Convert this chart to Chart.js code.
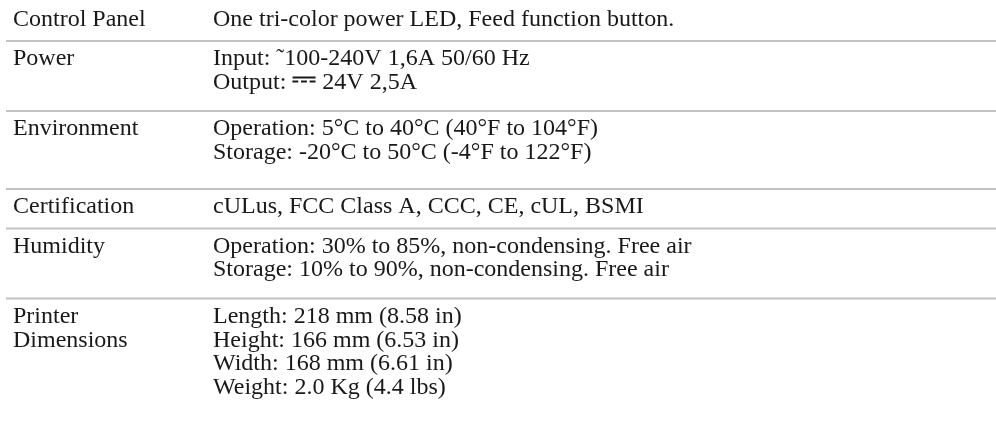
<!DOCTYPE html>
<html>
<head>
<meta charset="utf-8">
<script src="https://cdn.jsdelivr.net/npm/chart.js@4"></script>
<style>
  body { margin: 0; background: #fff; }
  #wrap { width: 996px; height: 423px; }
</style>
</head>
<body>
<div id="wrap"><canvas id="specChart"></canvas></div>
<script>
// Table contents
const specNames = ['Control Panel', 'Power', 'Environment', 'Certification', 'Humidity', 'Printer\nDimensions'];
const controlPanel = ['One tri-color power LED, Feed function button.'];
const power = ['Input: \u02DC100-240V 1,6A 50/60 Hz', 'Output: \u2393 24V 2,5A'];
const environment = ['Operation: 5\u00B0C to 40\u00B0C (40\u00B0F to 104\u00B0F)', 'Storage: -20\u00B0C to 50\u00B0C (-4\u00B0F to 122\u00B0F)'];
const certification = ['cULus, FCC Class A, CCC, CE, cUL, BSMI'];
const humidity = ['Operation: 30% to 85%, non-condensing. Free air', 'Storage: 10% to 90%, non-condensing. Free air'];
const dimensions = ['Length: 218 mm (8.58 in)', 'Height: 166 mm (6.53 in)', 'Width: 168 mm (6.61 in)', 'Weight: 2.0 Kg (4.4 lbs)'];
const specValues = [controlPanel, power, environment, certification, humidity, dimensions];

// layout, in text lines
const TOP = 0.065;
const FIRST_BASELINE = 1.04;
const X_MAX = 4.915;
const rowExtra = [0, 0, 0.34, 0, 0, 0];

const nameData = [];
const valueData = [];
const ruleData = [];
let y = TOP;
specValues.forEach((lines, i) => {
    const names = specNames[i].split('\n');
    const n = Math.max(lines.length, names.length);
    names.forEach((t, k) => nameData.push({ x: 0, y: y + FIRST_BASELINE + k, text: t }));
    lines.forEach((t, k) => valueData.push({ x: 1, y: y + FIRST_BASELINE + k, text: t }));
    y += 0.68 + n + (n > 1 ? 0.3 : 0) + rowExtra[i];
    if (i < specValues.length - 1) {
        ruleData.push({ x: -0.035, y: y }, { x: X_MAX, y: y }, { x: null, y: null });
    }
});

const TEXT_FONT = "24px 'Liberation Serif', 'DejaVu Serif'";
const DC_FONT = "bold 30px 'DejaVu Sans'";

// draws one line; the DC symbol gets a heavier font like the printed manual
function drawLine(ctx, text, x, y) {
    const parts = text.split('\u2393');
    parts.forEach((part, i) => {
        ctx.font = TEXT_FONT;
        ctx.fillText(part, x, y);
        x += ctx.measureText(part).width;
        if (i < parts.length - 1) {
            ctx.font = DC_FONT;
            ctx.fillText('\u2393', x, y - 1);
            x += ctx.measureText('\u2393').width;
        }
    });
}

const textPlugin = {
    id: 'cellText',
    afterDatasetsDraw(chart) {
        const ctx = chart.ctx;
        ctx.save();
        ctx.fillStyle = '#1a1818';
        ctx.textBaseline = 'alphabetic';
        ctx.textAlign = 'left';
        [0, 1].forEach(di => {
            const ds = chart.data.datasets[di];
            chart.getDatasetMeta(di).data.forEach((pt, i) => {
                drawLine(ctx, ds.data[i].text, pt.x, pt.y);
            });
        });
        ctx.restore();
    }
};

new Chart(document.getElementById('specChart'), {
    type: 'scatter',
    data: {
        datasets: [
            { data: nameData, pointRadius: 0 },
            { data: valueData, pointRadius: 0 },
            { type: 'line', data: ruleData, borderColor: '#c2c2c2', borderWidth: 2, pointRadius: 0, spanGaps: false }
        ]
    },
    options: {
        responsive: true,
        maintainAspectRatio: false,
        animation: false,
        layout: { padding: 0 },
        scales: {
            x: { type: 'linear', min: -0.065, max: X_MAX, display: false },
            y: { type: 'linear', min: 0, max: 18, reverse: true, display: false }
        },
        plugins: { legend: { display: false }, tooltip: { enabled: false } }
    },
    plugins: [textPlugin]
});
</script>
</body>
</html>
